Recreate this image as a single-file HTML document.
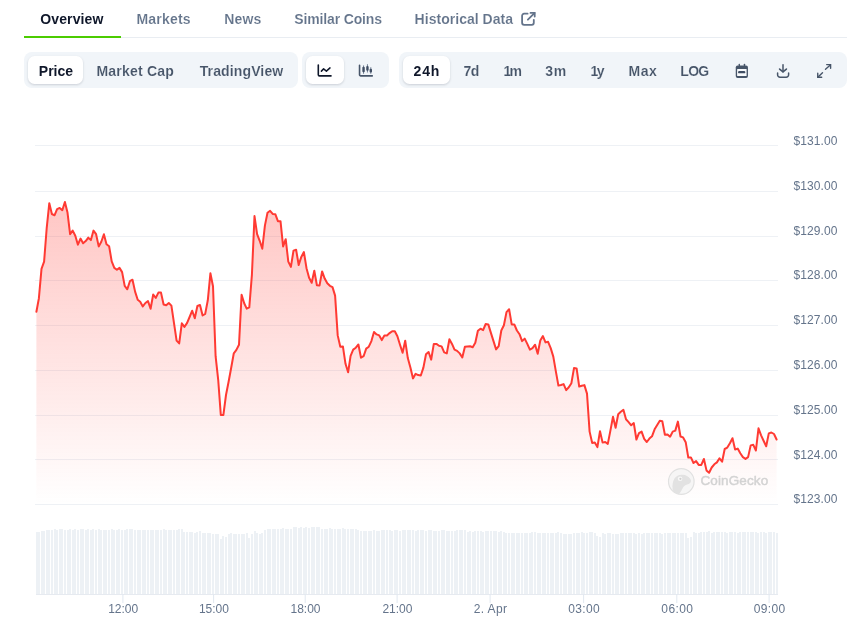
<!DOCTYPE html>
<html><head><meta charset="utf-8"><title>Chart</title>
<style>
html,body{margin:0;padding:0;background:#fff;}
body{width:847px;height:634px;position:relative;overflow:hidden;font-family:"Liberation Sans",sans-serif;}
.t{position:absolute;white-space:nowrap;font-weight:bold;font-size:14px;line-height:16px;}
.tab{color:#64748b;top:11px;-webkit-text-stroke:0.12px #fff;}
.btn{color:#475569;top:62.5px;-webkit-text-stroke:0.12px #f1f5f9;}
.dark{-webkit-text-stroke:0 !important;}
.dark{color:#0f172a;}
.grp{position:absolute;top:52px;height:35.5px;background:#f1f5f9;border-radius:8px;}
.pill{position:absolute;top:56px;height:28px;background:#fff;border-radius:6.5px;box-shadow:0 1px 3px rgba(15,23,42,0.11),0 1px 2px rgba(15,23,42,0.06);}
svg text{font-family:"Liberation Sans",sans-serif;}
.yl{font-size:12px;fill:#64748b;letter-spacing:.08px;}
.xl{font-size:12px;fill:#64748b;text-anchor:middle;}
.wm{font-size:13.5px;letter-spacing:.13px;fill:#d3d3d3;stroke:#d3d3d3;stroke-width:.45px;}
#chart{position:absolute;left:0;top:0;}
.ic{position:absolute;}
</style></head><body><div id="wrap" style="position:absolute;left:0;top:0;width:847px;height:634px;will-change:transform;">
<div style="position:absolute;left:24px;top:37px;width:823px;height:1px;background:#e9edf2"></div>
<div style="position:absolute;left:24px;top:36px;width:97px;height:2px;background:#4bcc00"></div>
<span class="t tab dark" id="t1" style="left:40.3px;letter-spacing:0.12px">Overview</span>
<span class="t tab" id="t2" style="left:136.5px;letter-spacing:0.2px">Markets</span>
<span class="t tab" id="t3" style="left:224.3px;letter-spacing:0.15px">News</span>
<span class="t tab" id="t4" style="left:294.3px;letter-spacing:-0.15px">Similar Coins</span>
<span class="t tab" id="t5" style="left:414.6px;letter-spacing:0.03px">Historical Data</span>
<svg class="ic" style="left:520px;top:10px" width="18" height="18" viewBox="0 0 18 18" fill="none" stroke="#64748b" stroke-width="1.8" stroke-linecap="round" stroke-linejoin="round"><path d="M7.6 3.7H4.1a2 2 0 0 0-2 2v7.1a2 2 0 0 0 2 2h7.7a2 2 0 0 0 2-2V9.8"/><path d="M10.5 2.9h4.2v3.7" stroke-linejoin="miter"/><path d="M14.4 3.2L7.9 9.7"/></svg>

<div class="grp" style="left:24px;width:273.5px"></div>
<div class="pill" style="left:28px;width:55px"></div>
<span class="t btn dark" id="b1" style="left:38.8px">Price</span>
<span class="t btn" id="b2" style="left:96.5px;letter-spacing:0.2px">Market Cap</span>
<span class="t btn" id="b3" style="left:199.7px;letter-spacing:0.13px">TradingView</span>

<div class="grp" style="left:302px;width:87px"></div>
<div class="pill" style="left:306px;width:38px"></div>
<svg class="ic" style="left:317px;top:63px" width="16" height="16" viewBox="0 0 16 16" fill="none" stroke="#0f172a" stroke-width="1.6" stroke-linecap="round" stroke-linejoin="round"><path d="M1.3 2.1v9.6a1.2 1.2 0 0 0 1.2 1.2h11.5"/><path d="M4.4 8.1L6.6 5.9L9.4 8.1L13 4.9" stroke-width="1.5"/></svg>
<svg class="ic" style="left:358px;top:63px" width="16" height="16" viewBox="0 0 16 16" fill="none" stroke="#475569" stroke-width="1.6" stroke-linecap="round" stroke-linejoin="round"><path d="M1.55 2.3v9.4a1.2 1.2 0 0 0 1.2 1.2h11.5"/><g stroke-width=".9" stroke="#64748b"><path d="M5.55 2.8v7.6M9.45 1.6v7.5M12.8 4.6v5.8"/></g><g stroke="none" fill="#3f4d63"><rect x="4.35" y="3.8" width="2.4" height="5.5" rx="1"/><rect x="8.25" y="3" width="2.4" height="4.7" rx="1"/><rect x="11.6" y="5.85" width="2.4" height="3.7" rx="1"/></g></svg>

<div class="grp" style="left:399px;width:448px"></div>
<div class="pill" style="left:403px;width:47px"></div>
<span class="t btn dark" id="r1" style="left:413.5px;letter-spacing:0.9px">24h</span>
<span class="t btn" id="r2" style="left:463.5px;letter-spacing:-0.5px">7d</span>
<span class="t btn" id="r3" style="left:503.6px;letter-spacing:-1.8px">1m</span>
<span class="t btn" id="r4" style="left:545.2px;letter-spacing:0.8px">3m</span>
<span class="t btn" id="r5" style="left:590.6px;letter-spacing:-1.6px">1y</span>
<span class="t btn" id="r6" style="left:628.5px;letter-spacing:0.5px">Max</span>
<span class="t btn" id="r7" style="left:680.3px;letter-spacing:-0.7px">LOG</span>
<svg class="ic" style="left:734px;top:62px" width="16" height="18" viewBox="0 0 16 18"><rect x="1.75" y="3.6" width="12.2" height="12.3" rx="1.9" fill="#475569"/><rect x="3.1" y="7" width="9.5" height="7.05" rx=".5" fill="#f8fafc"/><rect x="4.1" y="8.9" width="7.2" height="2.45" rx="1.2" fill="#3f4d63"/><rect x="4.7" y="1.75" width="1.3" height="3" rx=".5" fill="#475569"/><rect x="9.8" y="1.75" width="1.3" height="3" rx=".5" fill="#475569"/></svg>
<svg class="ic" style="left:775px;top:62px" width="16" height="18" viewBox="0 0 16 18" fill="none" stroke="#475569" stroke-width="1.5" stroke-linecap="round" stroke-linejoin="round"><path d="M8 2.7v7"/><path d="M4.6 7.1L8 9.9l3.4-2.8" stroke-width="1.6"/><path d="M2.6 10.9v1.85a2.4 2.4 0 0 0 2.4 2.4h6.2a2.4 2.4 0 0 0 2.4-2.4v-1.85"/></svg>
<svg class="ic" style="left:816px;top:63px" width="16" height="16" viewBox="0 0 16 16" fill="none" stroke="#475569" stroke-width="1.4" stroke-linecap="round" stroke-linejoin="miter"><path d="M10.7 1.6h3.9v3.6"/><path d="M14.3 1.9L9.5 6.2"/><path d="M5.7 14.25H1.75v-4"/><path d="M2.05 13.95l4.45-4.3"/></svg>
<svg id="chart" width="847" height="634" viewBox="0 0 847 634">
<defs><linearGradient id="g" gradientUnits="userSpaceOnUse" x1="0" y1="201" x2="0" y2="504">
<stop offset="0" stop-color="#ff3a33" stop-opacity="0.29"/><stop offset="1" stop-color="#ff3a33" stop-opacity="0.0"/></linearGradient></defs>
<rect x="35" y="145.0" width="743" height="1" fill="#eef1f5"/><rect x="35" y="191.0" width="743" height="1" fill="#eef1f5"/><rect x="35" y="236.0" width="743" height="1" fill="#eef1f5"/><rect x="35" y="280.0" width="743" height="1" fill="#eef1f5"/><rect x="35" y="325.0" width="743" height="1" fill="#eef1f5"/><rect x="35" y="370.0" width="743" height="1" fill="#eef1f5"/><rect x="35" y="415.0" width="743" height="1" fill="#eef1f5"/><rect x="35" y="459.0" width="743" height="1" fill="#eef1f5"/><rect x="35" y="504.0" width="743" height="1" fill="#eef1f5"/>
<path d="M36.4 311.8 L38.9 298.2 L41.5 268.8 L44.1 261.6 L46.7 228.2 L49.3 203.2 L51.9 214.0 L54.5 215.3 L57.1 209.2 L59.7 207.9 L62.3 210.2 L64.9 202.0 L67.5 212.6 L70.1 234.2 L72.7 230.6 L75.3 235.8 L77.9 244.7 L80.5 238.6 L83.1 243.3 L85.7 241.1 L88.3 237.6 L90.9 240.1 L93.5 230.6 L96.1 234.2 L98.7 246.4 L101.3 241.8 L103.9 234.2 L106.5 244.3 L109.1 246.2 L111.7 261.3 L114.3 267.9 L116.9 269.8 L119.5 267.9 L122.1 272.1 L124.7 285.9 L127.3 289.3 L129.9 281.2 L132.5 279.7 L135.1 291.6 L137.7 299.8 L140.2 301.7 L142.8 306.4 L145.4 303.0 L148.0 301.1 L150.6 308.7 L153.2 294.5 L155.8 297.9 L158.4 292.6 L161.0 292.6 L163.6 304.5 L166.2 305.3 L168.8 303.0 L171.4 305.6 L174.0 323.2 L176.6 340.6 L179.2 343.4 L181.8 323.3 L184.4 326.9 L187.0 323.1 L189.6 317.0 L192.2 310.7 L194.8 318.3 L197.4 306.0 L200.0 305.0 L202.6 315.5 L205.2 313.9 L207.8 300.3 L210.4 273.3 L213.0 286.2 L215.6 356.2 L218.2 379.8 L220.8 414.9 L223.4 414.9 L226.0 395.0 L228.6 381.8 L231.2 367.8 L233.8 353.3 L236.4 349.9 L239.0 344.8 L241.6 294.7 L244.2 303.3 L246.7 308.6 L249.3 307.4 L251.9 274.8 L254.5 216.1 L257.1 234.1 L259.7 240.8 L262.3 248.7 L264.9 225.6 L267.5 212.7 L270.1 210.8 L272.7 213.9 L275.3 214.2 L277.9 221.2 L280.5 221.2 L283.1 246.4 L285.7 239.2 L288.3 261.6 L290.9 266.9 L293.5 250.6 L296.1 249.7 L298.7 265.0 L301.3 256.9 L303.9 252.1 L306.5 268.2 L309.1 277.7 L311.7 282.8 L314.3 270.7 L316.9 285.3 L319.5 285.6 L322.1 271.4 L324.7 278.6 L327.3 283.3 L329.9 285.8 L332.5 287.1 L335.1 295.6 L337.7 335.4 L340.3 346.7 L342.9 346.4 L345.5 363.8 L348.1 372.3 L350.6 355.8 L353.2 349.6 L355.8 347.7 L358.4 344.5 L361.0 357.7 L363.6 356.2 L366.2 348.6 L368.8 346.7 L371.4 341.1 L374.0 332.0 L376.6 334.4 L379.2 335.4 L381.8 340.1 L384.4 335.4 L387.0 335.4 L389.6 333.1 L392.2 331.2 L394.8 331.2 L397.4 336.3 L400.0 344.8 L402.6 352.8 L405.2 340.7 L407.8 358.1 L410.4 367.6 L413.0 378.4 L415.6 373.8 L418.2 375.1 L420.8 375.5 L423.4 367.6 L426.0 354.3 L428.6 352.0 L431.2 359.6 L433.8 343.9 L436.4 343.9 L439.0 345.8 L441.6 346.4 L444.2 352.4 L446.8 353.4 L449.4 339.2 L452.0 343.9 L454.5 349.6 L457.1 350.9 L459.7 353.4 L462.3 357.5 L464.9 346.8 L467.5 346.4 L470.1 346.2 L472.7 347.2 L475.3 342.7 L477.9 330.8 L480.5 328.7 L483.1 330.1 L485.7 324.0 L488.3 324.4 L490.9 332.9 L493.5 341.1 L496.1 349.4 L498.7 346.2 L501.3 330.5 L503.9 325.3 L506.5 312.1 L509.1 309.2 L511.7 324.4 L514.3 324.4 L516.9 330.5 L519.5 334.2 L522.1 341.1 L524.7 338.6 L527.3 343.9 L529.9 349.6 L532.5 348.1 L535.1 344.7 L537.7 353.7 L540.3 340.5 L542.9 336.1 L545.5 342.4 L548.1 341.8 L550.7 348.1 L553.3 356.6 L555.9 371.7 L558.4 385.6 L561.0 385.0 L563.6 384.1 L566.2 390.1 L568.8 387.3 L571.4 383.2 L574.0 368.1 L576.6 368.4 L579.2 386.5 L581.8 385.7 L584.4 385.1 L587.0 393.6 L589.6 431.6 L592.2 443.0 L594.8 442.6 L597.4 447.1 L600.0 431.2 L602.6 442.6 L605.2 442.0 L607.8 443.9 L610.4 430.6 L613.0 416.8 L615.6 427.8 L618.2 414.2 L620.8 411.7 L623.4 409.8 L626.0 419.3 L628.6 422.1 L631.2 425.3 L633.8 423.1 L636.4 439.5 L639.0 433.1 L641.6 431.6 L644.2 438.8 L646.8 442.0 L649.4 438.6 L652.0 436.3 L654.6 429.3 L657.2 425.0 L659.8 420.8 L662.3 421.2 L664.9 434.8 L667.5 434.4 L670.1 436.7 L672.7 431.6 L675.3 430.6 L677.9 421.6 L680.5 436.5 L683.1 437.4 L685.7 442.2 L688.3 457.6 L690.9 457.4 L693.5 463.0 L696.1 461.1 L698.7 464.9 L701.3 464.9 L703.9 459.0 L706.5 470.4 L709.1 472.8 L711.7 467.5 L714.3 464.3 L716.9 462.4 L719.5 458.3 L722.1 461.7 L724.7 449.0 L727.3 447.6 L729.9 443.3 L732.5 438.2 L735.1 449.5 L737.7 448.6 L740.3 453.3 L742.9 457.1 L745.5 458.9 L748.1 457.1 L750.7 445.4 L753.3 444.8 L755.9 450.5 L758.5 428.3 L761.1 435.3 L763.7 441.0 L766.2 446.3 L768.8 433.4 L771.4 432.5 L774.0 434.0 L776.6 439.5 L776.6 504.5 L36.35 504.5 Z" fill="url(#g)"/>
<path d="M36.4 311.8 L38.9 298.2 L41.5 268.8 L44.1 261.6 L46.7 228.2 L49.3 203.2 L51.9 214.0 L54.5 215.3 L57.1 209.2 L59.7 207.9 L62.3 210.2 L64.9 202.0 L67.5 212.6 L70.1 234.2 L72.7 230.6 L75.3 235.8 L77.9 244.7 L80.5 238.6 L83.1 243.3 L85.7 241.1 L88.3 237.6 L90.9 240.1 L93.5 230.6 L96.1 234.2 L98.7 246.4 L101.3 241.8 L103.9 234.2 L106.5 244.3 L109.1 246.2 L111.7 261.3 L114.3 267.9 L116.9 269.8 L119.5 267.9 L122.1 272.1 L124.7 285.9 L127.3 289.3 L129.9 281.2 L132.5 279.7 L135.1 291.6 L137.7 299.8 L140.2 301.7 L142.8 306.4 L145.4 303.0 L148.0 301.1 L150.6 308.7 L153.2 294.5 L155.8 297.9 L158.4 292.6 L161.0 292.6 L163.6 304.5 L166.2 305.3 L168.8 303.0 L171.4 305.6 L174.0 323.2 L176.6 340.6 L179.2 343.4 L181.8 323.3 L184.4 326.9 L187.0 323.1 L189.6 317.0 L192.2 310.7 L194.8 318.3 L197.4 306.0 L200.0 305.0 L202.6 315.5 L205.2 313.9 L207.8 300.3 L210.4 273.3 L213.0 286.2 L215.6 356.2 L218.2 379.8 L220.8 414.9 L223.4 414.9 L226.0 395.0 L228.6 381.8 L231.2 367.8 L233.8 353.3 L236.4 349.9 L239.0 344.8 L241.6 294.7 L244.2 303.3 L246.7 308.6 L249.3 307.4 L251.9 274.8 L254.5 216.1 L257.1 234.1 L259.7 240.8 L262.3 248.7 L264.9 225.6 L267.5 212.7 L270.1 210.8 L272.7 213.9 L275.3 214.2 L277.9 221.2 L280.5 221.2 L283.1 246.4 L285.7 239.2 L288.3 261.6 L290.9 266.9 L293.5 250.6 L296.1 249.7 L298.7 265.0 L301.3 256.9 L303.9 252.1 L306.5 268.2 L309.1 277.7 L311.7 282.8 L314.3 270.7 L316.9 285.3 L319.5 285.6 L322.1 271.4 L324.7 278.6 L327.3 283.3 L329.9 285.8 L332.5 287.1 L335.1 295.6 L337.7 335.4 L340.3 346.7 L342.9 346.4 L345.5 363.8 L348.1 372.3 L350.6 355.8 L353.2 349.6 L355.8 347.7 L358.4 344.5 L361.0 357.7 L363.6 356.2 L366.2 348.6 L368.8 346.7 L371.4 341.1 L374.0 332.0 L376.6 334.4 L379.2 335.4 L381.8 340.1 L384.4 335.4 L387.0 335.4 L389.6 333.1 L392.2 331.2 L394.8 331.2 L397.4 336.3 L400.0 344.8 L402.6 352.8 L405.2 340.7 L407.8 358.1 L410.4 367.6 L413.0 378.4 L415.6 373.8 L418.2 375.1 L420.8 375.5 L423.4 367.6 L426.0 354.3 L428.6 352.0 L431.2 359.6 L433.8 343.9 L436.4 343.9 L439.0 345.8 L441.6 346.4 L444.2 352.4 L446.8 353.4 L449.4 339.2 L452.0 343.9 L454.5 349.6 L457.1 350.9 L459.7 353.4 L462.3 357.5 L464.9 346.8 L467.5 346.4 L470.1 346.2 L472.7 347.2 L475.3 342.7 L477.9 330.8 L480.5 328.7 L483.1 330.1 L485.7 324.0 L488.3 324.4 L490.9 332.9 L493.5 341.1 L496.1 349.4 L498.7 346.2 L501.3 330.5 L503.9 325.3 L506.5 312.1 L509.1 309.2 L511.7 324.4 L514.3 324.4 L516.9 330.5 L519.5 334.2 L522.1 341.1 L524.7 338.6 L527.3 343.9 L529.9 349.6 L532.5 348.1 L535.1 344.7 L537.7 353.7 L540.3 340.5 L542.9 336.1 L545.5 342.4 L548.1 341.8 L550.7 348.1 L553.3 356.6 L555.9 371.7 L558.4 385.6 L561.0 385.0 L563.6 384.1 L566.2 390.1 L568.8 387.3 L571.4 383.2 L574.0 368.1 L576.6 368.4 L579.2 386.5 L581.8 385.7 L584.4 385.1 L587.0 393.6 L589.6 431.6 L592.2 443.0 L594.8 442.6 L597.4 447.1 L600.0 431.2 L602.6 442.6 L605.2 442.0 L607.8 443.9 L610.4 430.6 L613.0 416.8 L615.6 427.8 L618.2 414.2 L620.8 411.7 L623.4 409.8 L626.0 419.3 L628.6 422.1 L631.2 425.3 L633.8 423.1 L636.4 439.5 L639.0 433.1 L641.6 431.6 L644.2 438.8 L646.8 442.0 L649.4 438.6 L652.0 436.3 L654.6 429.3 L657.2 425.0 L659.8 420.8 L662.3 421.2 L664.9 434.8 L667.5 434.4 L670.1 436.7 L672.7 431.6 L675.3 430.6 L677.9 421.6 L680.5 436.5 L683.1 437.4 L685.7 442.2 L688.3 457.6 L690.9 457.4 L693.5 463.0 L696.1 461.1 L698.7 464.9 L701.3 464.9 L703.9 459.0 L706.5 470.4 L709.1 472.8 L711.7 467.5 L714.3 464.3 L716.9 462.4 L719.5 458.3 L722.1 461.7 L724.7 449.0 L727.3 447.6 L729.9 443.3 L732.5 438.2 L735.1 449.5 L737.7 448.6 L740.3 453.3 L742.9 457.1 L745.5 458.9 L748.1 457.1 L750.7 445.4 L753.3 444.8 L755.9 450.5 L758.5 428.3 L761.1 435.3 L763.7 441.0 L766.2 446.3 L768.8 433.4 L771.4 432.5 L774.0 434.0 L776.6 439.5" fill="none" stroke="#ff3a33" stroke-width="2" stroke-linejoin="round" stroke-linecap="round"/>
<g><circle cx="681.3" cy="481.5" r="12.8" fill="#f4f4f4" fill-opacity="0.8" stroke="#e1e1e1" stroke-width="1.2"/>
<path d="M672.6 489.5 C671.8 480 675.5 475 681.5 474.8 C685.5 474.7 689.5 476.5 691 480.5 C691.3 482.5 689.5 484 687 484.6 C685 485.2 683.5 486.5 682.5 488.5 C681.5 490.5 680 493 679 494.2 C675.5 493.5 673.2 491.8 672.6 489.5 Z" fill="#e2e2e2"/>
<circle cx="680.1" cy="478.7" r="2.3" fill="#f7f7f7"/><circle cx="680.4" cy="478.8" r="1.1" fill="#cfcfcf"/>
<text x="700.4" y="485" class="wm">CoinGecko</text></g>
<g fill="#edf1f5" shape-rendering="crispEdges"><rect x="36" y="532.2" width="2" height="61.8"/><rect x="38" y="532.0" width="2" height="62.0"/><rect x="41" y="531.4" width="2" height="62.6"/><rect x="43" y="530.5" width="2" height="63.5"/><rect x="46" y="529.7" width="2" height="64.3"/><rect x="48" y="529.7" width="2" height="64.3"/><rect x="51" y="530.2" width="2" height="63.8"/><rect x="54" y="529.2" width="2" height="64.8"/><rect x="56" y="529.7" width="2" height="64.3"/><rect x="59" y="529.2" width="2" height="64.8"/><rect x="61" y="529.4" width="2" height="64.6"/><rect x="64" y="530.1" width="2" height="63.9"/><rect x="67" y="530.1" width="2" height="63.9"/><rect x="69" y="529.4" width="2" height="64.6"/><rect x="72" y="529.7" width="2" height="64.3"/><rect x="74" y="529.4" width="2" height="64.6"/><rect x="77" y="530.1" width="2" height="63.9"/><rect x="80" y="529.2" width="2" height="64.8"/><rect x="82" y="529.4" width="2" height="64.6"/><rect x="85" y="529.7" width="2" height="64.3"/><rect x="87" y="529.2" width="2" height="64.8"/><rect x="90" y="530.1" width="2" height="63.9"/><rect x="92" y="529.2" width="2" height="64.8"/><rect x="95" y="529.7" width="2" height="64.3"/><rect x="98" y="529.2" width="2" height="64.8"/><rect x="100" y="529.7" width="2" height="64.3"/><rect x="103" y="529.7" width="2" height="64.3"/><rect x="105" y="530.1" width="2" height="63.9"/><rect x="108" y="529.7" width="2" height="64.3"/><rect x="111" y="529.4" width="2" height="64.6"/><rect x="113" y="529.7" width="2" height="64.3"/><rect x="116" y="529.7" width="2" height="64.3"/><rect x="118" y="529.4" width="2" height="64.6"/><rect x="121" y="529.7" width="2" height="64.3"/><rect x="124" y="529.9" width="2" height="64.1"/><rect x="126" y="529.4" width="2" height="64.6"/><rect x="129" y="529.4" width="2" height="64.6"/><rect x="131" y="529.2" width="2" height="64.8"/><rect x="134" y="529.7" width="2" height="64.3"/><rect x="137" y="530.3" width="2" height="63.7"/><rect x="139" y="530.1" width="2" height="63.9"/><rect x="142" y="529.9" width="2" height="64.1"/><rect x="144" y="530.3" width="2" height="63.7"/><rect x="147" y="530.3" width="2" height="63.7"/><rect x="150" y="529.9" width="2" height="64.1"/><rect x="152" y="529.7" width="2" height="64.3"/><rect x="155" y="529.7" width="2" height="64.3"/><rect x="157" y="529.7" width="2" height="64.3"/><rect x="160" y="529.7" width="2" height="64.3"/><rect x="163" y="529.4" width="2" height="64.6"/><rect x="165" y="529.7" width="2" height="64.3"/><rect x="168" y="530.3" width="2" height="63.7"/><rect x="170" y="529.9" width="2" height="64.1"/><rect x="173" y="530.3" width="2" height="63.7"/><rect x="176" y="529.7" width="2" height="64.3"/><rect x="178" y="529.4" width="2" height="64.6"/><rect x="181" y="529.4" width="2" height="64.6"/><rect x="183" y="532.3" width="2" height="61.7"/><rect x="186" y="531.9" width="2" height="62.1"/><rect x="189" y="532.1" width="2" height="61.9"/><rect x="191" y="531.9" width="2" height="62.1"/><rect x="194" y="532.5" width="2" height="61.5"/><rect x="196" y="532.3" width="2" height="61.7"/><rect x="199" y="531.4" width="2" height="62.6"/><rect x="202" y="532.8" width="2" height="61.2"/><rect x="204" y="533.3" width="2" height="60.7"/><rect x="207" y="533.3" width="2" height="60.7"/><rect x="209" y="533.3" width="2" height="60.7"/><rect x="212" y="533.7" width="2" height="60.3"/><rect x="215" y="533.7" width="2" height="60.3"/><rect x="217" y="533.5" width="2" height="60.5"/><rect x="220" y="538.7" width="2" height="55.3"/><rect x="222" y="536.0" width="2" height="58.0"/><rect x="225" y="536.6" width="2" height="57.4"/><rect x="228" y="533.5" width="2" height="60.5"/><rect x="230" y="533.3" width="2" height="60.7"/><rect x="233" y="533.8" width="2" height="60.2"/><rect x="235" y="534.4" width="2" height="59.6"/><rect x="238" y="533.8" width="2" height="60.2"/><rect x="241" y="534.2" width="2" height="59.8"/><rect x="243" y="534.0" width="2" height="60.0"/><rect x="246" y="533.3" width="2" height="60.7"/><rect x="248" y="537.9" width="2" height="56.1"/><rect x="251" y="533.5" width="2" height="60.5"/><rect x="254" y="531.4" width="2" height="62.6"/><rect x="256" y="533.0" width="2" height="61.0"/><rect x="259" y="533.9" width="2" height="60.1"/><rect x="261" y="532.8" width="2" height="61.2"/><rect x="264" y="530.3" width="2" height="63.7"/><rect x="267" y="528.6" width="2" height="65.4"/><rect x="269" y="528.6" width="2" height="65.4"/><rect x="272" y="528.6" width="2" height="65.4"/><rect x="274" y="529.0" width="2" height="65.0"/><rect x="277" y="529.0" width="2" height="65.0"/><rect x="280" y="529.2" width="2" height="64.8"/><rect x="282" y="528.3" width="2" height="65.7"/><rect x="285" y="528.6" width="2" height="65.4"/><rect x="287" y="529.2" width="2" height="64.8"/><rect x="290" y="529.0" width="2" height="65.0"/><rect x="293" y="527.2" width="2" height="66.8"/><rect x="295" y="527.2" width="2" height="66.8"/><rect x="298" y="527.6" width="2" height="66.4"/><rect x="300" y="527.2" width="2" height="66.8"/><rect x="303" y="527.6" width="2" height="66.4"/><rect x="305" y="527.4" width="2" height="66.6"/><rect x="308" y="527.6" width="2" height="66.4"/><rect x="311" y="527.2" width="2" height="66.8"/><rect x="313" y="527.2" width="2" height="66.8"/><rect x="316" y="526.9" width="2" height="67.1"/><rect x="318" y="527.2" width="2" height="66.8"/><rect x="321" y="528.6" width="2" height="65.4"/><rect x="324" y="528.6" width="2" height="65.4"/><rect x="326" y="528.6" width="2" height="65.4"/><rect x="329" y="528.1" width="2" height="65.9"/><rect x="331" y="529.2" width="2" height="64.8"/><rect x="334" y="528.6" width="2" height="65.4"/><rect x="337" y="528.6" width="2" height="65.4"/><rect x="339" y="528.6" width="2" height="65.4"/><rect x="342" y="528.1" width="2" height="65.9"/><rect x="344" y="528.6" width="2" height="65.4"/><rect x="347" y="529.0" width="2" height="65.0"/><rect x="350" y="528.8" width="2" height="65.2"/><rect x="352" y="528.8" width="2" height="65.2"/><rect x="355" y="528.6" width="2" height="65.4"/><rect x="357" y="529.8" width="2" height="64.2"/><rect x="360" y="530.9" width="2" height="63.1"/><rect x="363" y="530.7" width="2" height="63.3"/><rect x="365" y="530.7" width="2" height="63.3"/><rect x="368" y="530.7" width="2" height="63.3"/><rect x="370" y="530.7" width="2" height="63.3"/><rect x="373" y="530.0" width="2" height="64.0"/><rect x="376" y="530.9" width="2" height="63.1"/><rect x="378" y="530.7" width="2" height="63.3"/><rect x="381" y="529.8" width="2" height="64.2"/><rect x="383" y="530.3" width="2" height="63.7"/><rect x="386" y="530.0" width="2" height="64.0"/><rect x="389" y="530.3" width="2" height="63.7"/><rect x="391" y="530.9" width="2" height="63.1"/><rect x="394" y="530.3" width="2" height="63.7"/><rect x="396" y="530.0" width="2" height="64.0"/><rect x="399" y="530.5" width="2" height="63.5"/><rect x="402" y="529.8" width="2" height="64.2"/><rect x="404" y="530.0" width="2" height="64.0"/><rect x="407" y="529.8" width="2" height="64.2"/><rect x="409" y="530.3" width="2" height="63.7"/><rect x="412" y="530.0" width="2" height="64.0"/><rect x="415" y="530.5" width="2" height="63.5"/><rect x="417" y="529.8" width="2" height="64.2"/><rect x="420" y="530.0" width="2" height="64.0"/><rect x="422" y="530.3" width="2" height="63.7"/><rect x="425" y="530.7" width="2" height="63.3"/><rect x="428" y="530.3" width="2" height="63.7"/><rect x="430" y="530.3" width="2" height="63.7"/><rect x="433" y="530.5" width="2" height="63.5"/><rect x="435" y="530.5" width="2" height="63.5"/><rect x="438" y="530.9" width="2" height="63.1"/><rect x="441" y="530.0" width="2" height="64.0"/><rect x="443" y="530.0" width="2" height="64.0"/><rect x="446" y="530.9" width="2" height="63.1"/><rect x="448" y="530.9" width="2" height="63.1"/><rect x="451" y="530.9" width="2" height="63.1"/><rect x="454" y="530.9" width="2" height="63.1"/><rect x="456" y="530.3" width="2" height="63.7"/><rect x="459" y="530.0" width="2" height="64.0"/><rect x="461" y="530.3" width="2" height="63.7"/><rect x="464" y="530.0" width="2" height="64.0"/><rect x="467" y="531.6" width="2" height="62.4"/><rect x="469" y="531.4" width="2" height="62.6"/><rect x="472" y="532.0" width="2" height="62.0"/><rect x="474" y="531.4" width="2" height="62.6"/><rect x="477" y="530.9" width="2" height="63.1"/><rect x="480" y="531.4" width="2" height="62.6"/><rect x="482" y="531.6" width="2" height="62.4"/><rect x="485" y="531.4" width="2" height="62.6"/><rect x="487" y="530.9" width="2" height="63.1"/><rect x="490" y="531.4" width="2" height="62.6"/><rect x="493" y="531.1" width="2" height="62.9"/><rect x="495" y="531.4" width="2" height="62.6"/><rect x="498" y="531.6" width="2" height="62.4"/><rect x="500" y="531.4" width="2" height="62.6"/><rect x="503" y="531.6" width="2" height="62.4"/><rect x="505" y="532.6" width="2" height="61.4"/><rect x="508" y="532.8" width="2" height="61.2"/><rect x="511" y="532.6" width="2" height="61.4"/><rect x="513" y="532.6" width="2" height="61.4"/><rect x="516" y="532.6" width="2" height="61.4"/><rect x="518" y="533.0" width="2" height="61.0"/><rect x="521" y="532.6" width="2" height="61.4"/><rect x="524" y="532.6" width="2" height="61.4"/><rect x="526" y="533.2" width="2" height="60.8"/><rect x="529" y="532.8" width="2" height="61.2"/><rect x="531" y="532.1" width="2" height="61.9"/><rect x="534" y="532.1" width="2" height="61.9"/><rect x="537" y="532.6" width="2" height="61.4"/><rect x="539" y="533.2" width="2" height="60.8"/><rect x="542" y="532.6" width="2" height="61.4"/><rect x="544" y="532.6" width="2" height="61.4"/><rect x="547" y="532.8" width="2" height="61.2"/><rect x="550" y="533.2" width="2" height="60.8"/><rect x="552" y="532.8" width="2" height="61.2"/><rect x="555" y="532.8" width="2" height="61.2"/><rect x="557" y="532.3" width="2" height="61.7"/><rect x="560" y="532.6" width="2" height="61.4"/><rect x="563" y="533.5" width="2" height="60.5"/><rect x="565" y="533.8" width="2" height="60.2"/><rect x="568" y="534.4" width="2" height="59.6"/><rect x="570" y="533.8" width="2" height="60.2"/><rect x="573" y="532.8" width="2" height="61.2"/><rect x="576" y="532.6" width="2" height="61.4"/><rect x="578" y="533.2" width="2" height="60.8"/><rect x="581" y="532.1" width="2" height="61.9"/><rect x="583" y="533.2" width="2" height="60.8"/><rect x="586" y="532.8" width="2" height="61.2"/><rect x="589" y="532.3" width="2" height="61.7"/><rect x="591" y="532.3" width="2" height="61.7"/><rect x="594" y="533.0" width="2" height="61.0"/><rect x="596" y="536.4" width="2" height="57.6"/><rect x="599" y="537.0" width="2" height="57.0"/><rect x="602" y="533.1" width="2" height="60.9"/><rect x="604" y="533.5" width="2" height="60.5"/><rect x="607" y="533.3" width="2" height="60.7"/><rect x="609" y="532.8" width="2" height="61.2"/><rect x="612" y="533.5" width="2" height="60.5"/><rect x="615" y="533.7" width="2" height="60.3"/><rect x="617" y="533.5" width="2" height="60.5"/><rect x="620" y="532.8" width="2" height="61.2"/><rect x="622" y="533.1" width="2" height="60.9"/><rect x="625" y="533.1" width="2" height="60.9"/><rect x="628" y="533.1" width="2" height="60.9"/><rect x="630" y="532.6" width="2" height="61.4"/><rect x="633" y="533.1" width="2" height="60.9"/><rect x="635" y="533.7" width="2" height="60.3"/><rect x="638" y="533.1" width="2" height="60.9"/><rect x="641" y="533.7" width="2" height="60.3"/><rect x="643" y="533.3" width="2" height="60.7"/><rect x="646" y="533.1" width="2" height="60.9"/><rect x="648" y="533.1" width="2" height="60.9"/><rect x="651" y="532.6" width="2" height="61.4"/><rect x="654" y="532.6" width="2" height="61.4"/><rect x="656" y="532.8" width="2" height="61.2"/><rect x="659" y="533.1" width="2" height="60.9"/><rect x="661" y="533.5" width="2" height="60.5"/><rect x="664" y="533.1" width="2" height="60.9"/><rect x="667" y="533.1" width="2" height="60.9"/><rect x="669" y="532.6" width="2" height="61.4"/><rect x="672" y="533.1" width="2" height="60.9"/><rect x="674" y="533.1" width="2" height="60.9"/><rect x="677" y="533.1" width="2" height="60.9"/><rect x="680" y="533.1" width="2" height="60.9"/><rect x="682" y="533.3" width="2" height="60.7"/><rect x="685" y="533.1" width="2" height="60.9"/><rect x="687" y="537.7" width="2" height="56.3"/><rect x="690" y="537.3" width="2" height="56.7"/><rect x="693" y="532.1" width="2" height="61.9"/><rect x="695" y="532.8" width="2" height="61.2"/><rect x="698" y="533.2" width="2" height="60.8"/><rect x="700" y="532.3" width="2" height="61.7"/><rect x="703" y="531.9" width="2" height="62.1"/><rect x="706" y="531.9" width="2" height="62.1"/><rect x="708" y="531.4" width="2" height="62.6"/><rect x="711" y="532.5" width="2" height="61.5"/><rect x="713" y="532.2" width="2" height="61.8"/><rect x="716" y="531.7" width="2" height="62.3"/><rect x="718" y="532.2" width="2" height="61.8"/><rect x="721" y="532.2" width="2" height="61.8"/><rect x="724" y="532.2" width="2" height="61.8"/><rect x="726" y="532.8" width="2" height="61.2"/><rect x="729" y="531.9" width="2" height="62.1"/><rect x="731" y="531.7" width="2" height="62.3"/><rect x="734" y="532.4" width="2" height="61.6"/><rect x="737" y="532.8" width="2" height="61.2"/><rect x="739" y="531.9" width="2" height="62.1"/><rect x="742" y="531.7" width="2" height="62.3"/><rect x="744" y="532.2" width="2" height="61.8"/><rect x="747" y="532.2" width="2" height="61.8"/><rect x="750" y="532.2" width="2" height="61.8"/><rect x="752" y="531.7" width="2" height="62.3"/><rect x="755" y="531.9" width="2" height="62.1"/><rect x="757" y="532.8" width="2" height="61.2"/><rect x="760" y="531.7" width="2" height="62.3"/><rect x="763" y="531.9" width="2" height="62.1"/><rect x="765" y="532.8" width="2" height="61.2"/><rect x="768" y="532.4" width="2" height="61.6"/><rect x="770" y="532.2" width="2" height="61.8"/><rect x="773" y="532.2" width="2" height="61.8"/><rect x="776" y="532.8" width="2" height="61.2"/></g>
<rect x="36" y="594" width="742" height="1" fill="#e6eaf0"/>
<rect x="122.4" y="594" width="1" height="9" fill="#e2e8f0"/><text x="123.2" y="613.3" class="xl" style="letter-spacing:0px">12:00</text><rect x="213.1" y="594" width="1" height="9" fill="#e2e8f0"/><text x="213.9" y="613.3" class="xl" style="letter-spacing:0px">15:00</text><rect x="304.7" y="594" width="1" height="9" fill="#e2e8f0"/><text x="305.5" y="613.3" class="xl" style="letter-spacing:0px">18:00</text><rect x="396.6" y="594" width="1" height="9" fill="#e2e8f0"/><text x="397.4" y="613.3" class="xl" style="letter-spacing:0px">21:00</text><rect x="489.6" y="594" width="1" height="9" fill="#e2e8f0"/><text x="490.6" y="613.3" class="xl" style="letter-spacing:0.38px">2. Apr</text><rect x="583.1" y="594" width="1" height="9" fill="#e2e8f0"/><text x="584.1" y="613.3" class="xl" style="letter-spacing:0.38px">03:00</text><rect x="676.3" y="594" width="1" height="9" fill="#e2e8f0"/><text x="677.3" y="613.3" class="xl" style="letter-spacing:0.38px">06:00</text><rect x="768.6" y="594" width="1" height="9" fill="#e2e8f0"/><text x="769.6" y="613.3" class="xl" style="letter-spacing:0.38px">09:00</text>
<text x="793.5" y="145.0" class="yl">$131.00</text><text x="793.5" y="189.8" class="yl">$130.00</text><text x="793.5" y="234.6" class="yl">$129.00</text><text x="793.5" y="279.3" class="yl">$128.00</text><text x="793.5" y="324.1" class="yl">$127.00</text><text x="793.5" y="368.9" class="yl">$126.00</text><text x="793.5" y="413.7" class="yl">$125.00</text><text x="793.5" y="458.5" class="yl">$124.00</text><text x="793.5" y="503.2" class="yl">$123.00</text>
</svg>
</div></body></html>
